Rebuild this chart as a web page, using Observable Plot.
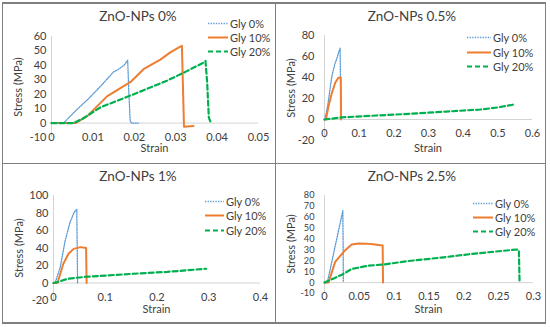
<!DOCTYPE html>
<html>
<head>
<meta charset="utf-8">
<script src="https://cdn.jsdelivr.net/npm/d3@7"></script>
<script src="https://cdn.jsdelivr.net/npm/@observablehq/plot@0.6"></script>
<style>
  html, body { margin: 0; padding: 0; background: #fff; }
  #root { position: relative; width: 550px; height: 327px; font-family: Lato, "Open Sans", sans-serif; color: #404040; overflow: hidden; }
  .ln { position: absolute; background: #7f7f7f; }
  .abs { position: absolute; white-space: nowrap; line-height: 1; }
  .title { font-size: 13.5px; transform: translate(-50%, -50%); }
  .xlab { font-size: 11px; transform: translate(-50%, -50%); }
  .ylab { font-size: 11px; writing-mode: vertical-rl; transform: translate(-50%, -50%) rotate(180deg); }
  .leg { font-size: 11px; transform: translateY(-50%); display: flex; align-items: center; }
  .leg svg { display: block; margin-right: 2px; }
  .panel { position: absolute; }
</style>
</head>
<body>
<div id="root"></div>
<script>
// ---------- data ----------
const titles = ["ZnO-NPs 0%", "ZnO-NPs 0.5%", "ZnO-NPs 1%", "ZnO-NPs 2.5%"];
const seriesNames = ["Gly 0%", "Gly 10%", "Gly 20%"];
const xAxisTitle = "Strain";
const yAxisTitle = "Stress (MPa)";

// Panel 1: ZnO-NPs 0%
const p1Gly0 = [[0,0],[0.0029,0],[0.006,9],[0.009,17],[0.012,26],[0.015,35.5],[0.016,37],[0.0175,40],[0.0184,43.5],[0.0187,20],[0.019,2],[0.0193,0],[0.021,0]];
const p1Gly10 = [[0,0],[0.0058,0],[0.0087,5],[0.0134,18.5],[0.0191,28.5],[0.0223,37.5],[0.0263,44],[0.0287,49],[0.0311,53],[0.0315,53.5],[0.0318,20],[0.032,-2.5],[0.0343,-2]];
const p1Gly20 = [[0,0],[0.0053,0],[0.0075,3],[0.0119,11],[0.0199,20],[0.0279,29.4],[0.0327,36],[0.0368,42],[0.0372,43],[0.0376,28],[0.038,4],[0.0385,0]];
const p1XTicks = [0, 0.01, 0.02, 0.03, 0.04, 0.05];
const p1YTicks = [-10, 0, 10, 20, 30, 40, 50, 60];

// Panel 2: ZnO-NPs 0.5%
const p2Gly0 = [[0,0],[0.005,6],[0.01,15],[0.021,41],[0.03,53],[0.0355,58],[0.04,63],[0.045,68],[0.0465,30],[0.048,0]];
const p2Gly10 = [[0,0],[0.004,0],[0.0115,12.5],[0.021,25],[0.031,35],[0.04,39.8],[0.047,40],[0.0475,0]];
const p2Gly20 = [[0,0],[0.05,2],[0.15,3.8],[0.25,5.5],[0.35,7.5],[0.45,9.5],[0.5,11.5],[0.55,14.5]];
const p2XTicks = [0, 0.1, 0.2, 0.3, 0.4, 0.5, 0.6];
const p2YTicks = [-20, 0, 20, 40, 60, 80];

// Panel 3: ZnO-NPs 1%
const p3Gly0 = [[0,0],[0.003,0],[0.013,18],[0.0226,48.6],[0.032,69.6],[0.04,81],[0.045,84],[0.0465,0]];
const p3Gly10 = [[0,0],[0.0077,0],[0.019,22],[0.029,33.5],[0.039,39],[0.052,41],[0.063,40],[0.064,0]];
const p3Gly20 = [[0,0],[0.01,1.5],[0.02,3.5],[0.03,5],[0.045,6],[0.065,7.2],[0.1,8.5],[0.155,10.6],[0.22,12.7],[0.295,16.3]];
const p3XTicks = [0, 0.1, 0.2, 0.3, 0.4];
const p3YTicks = [-20, 0, 20, 40, 60, 80, 100];

// Panel 4: ZnO-NPs 2.5%
const p4Gly0 = [[0,0],[0.004,0],[0.0263,66],[0.0268,30],[0.027,0]];
const p4Gly10 = [[0,0],[0.0057,0],[0.0153,19],[0.0297,29.8],[0.039,35],[0.049,36],[0.06,35.8],[0.07,35.2],[0.08,34.4],[0.0835,34],[0.084,0]];
const p4Gly20 = [[0,0],[0.015,4.3],[0.027,8],[0.039,12.5],[0.063,15.5],[0.087,16.8],[0.12,19.8],[0.168,23],[0.216,26.7],[0.276,30.4],[0.279,29.5],[0.28,0]];
const p4XTicks = [0, 0.05, 0.1, 0.15, 0.2, 0.25, 0.3];
const p4YTicks = [-10, 0, 10, 20, 30, 40, 50, 60, 70, 80];

// ---------- styling / layout ----------
const colors = ["#5B9BD5", "#ED7D31", "#00B050"];
const dashes = ["1.3,1.3", null, "5,3"];
const widths = [1.3, 2, 2.2];

const panels = [
  {data: [p1Gly0, p1Gly10, p1Gly20], xt: p1XTicks, yt: p1YTicks, left: 2, top: 2, w: 273, h: 161, m: [34, 17, 26, 49], pad: 5, yfs: 11,
   title: [138, 17], legX: 208, legY: [23, 37, 51], legW: 20, xlabY: 147, ylabX: 17},
  {data: [p2Gly0, p2Gly10, p2Gly20], xt: p2XTicks, yt: p2YTicks, left: 275, top: 2, w: 270, h: 161, m: [33, 13, 23, 49], pad: 10, yfs: 11,
   title: [412, 17], legX: 467, legY: [37, 52, 66], legW: 24, xlabY: 147, ylabX: 290},
  {data: [p3Gly0, p3Gly10, p3Gly20], xt: p3XTicks, yt: p3YTicks, left: 2, top: 163, w: 273, h: 160, m: [32, 15, 23, 51], pad: 5, yfs: 11,
   title: [138, 177], legX: 205, legY: [201, 215, 230], legW: 19, xlabY: 308, ylabX: 18},
  {data: [p4Gly0, p4Gly10, p4Gly20], xt: p4XTicks, yt: p4YTicks, left: 275, top: 163, w: 270, h: 160, m: [32, 12, 30, 49], pad: 10, yfs: 9.2,
   title: [412, 177], legX: 473, legY: [203, 217, 231], legW: 20, xlabY: 308, ylabX: 290}
];

const root = document.getElementById("root");

function addDiv(cls, text, x, y) {
  const d = document.createElement("div");
  d.className = "abs " + cls;
  d.style.left = x + "px";
  d.style.top = y + "px";
  if (text != null) d.textContent = text;
  root.appendChild(d);
  return d;
}

panels.forEach((p, i) => {
  const [mt, mr, mb, ml] = p.m;
  const chart = Plot.plot({
    width: p.w, height: p.h,
    marginTop: mt, marginRight: mr, marginBottom: mb, marginLeft: ml,
    x: {domain: [0, p.xt[p.xt.length - 1]], axis: null},
    y: {domain: [p.yt[0], p.yt[p.yt.length - 1]]},
    style: {fontFamily: "Lato, 'Open Sans', sans-serif", fontSize: "11px", color: "#404040", background: "transparent", overflow: "visible"},
    marks: [
      Plot.ruleX([0], {stroke: "#d4d4d4", strokeWidth: 1}),
      Plot.ruleY([0], {stroke: "#d4d4d4", strokeWidth: 1}),
      Plot.axisY({ticks: p.yt, tickSize: 0, tickPadding: p.pad, label: null, fontSize: p.yfs, tickFormat: d => String(d)}),
      Plot.text(p.xt, {x: d => d, y: () => 0, text: d => String(d), dy: 14, fill: "#404040"}),
      ...p.data.map((s, k) => Plot.line(s, {x: d => d[0], y: d => d[1], stroke: colors[k], strokeWidth: widths[k], strokeDasharray: dashes[k], strokeLinejoin: "round"}))
    ]
  });
  const holder = document.createElement("div");
  holder.className = "panel";
  holder.style.left = p.left + "px";
  holder.style.top = p.top + "px";
  holder.appendChild(chart);
  root.appendChild(holder);

  addDiv("title", titles[i], p.title[0], p.title[1]);
  const plotCx = p.left + ml + (p.w - ml - mr) / 2;
  const plotCy = p.top + mt + (p.h - mt - mb) / 2;
  addDiv("xlab", xAxisTitle, plotCx, p.xlabY);
  addDiv("ylab", yAxisTitle, p.ylabX, plotCy);

  seriesNames.forEach((name, k) => {
    const d = addDiv("leg", null, p.legX, p.legY[k]);
    const ns = "http://www.w3.org/2000/svg";
    const svg = document.createElementNS(ns, "svg");
    svg.setAttribute("width", p.legW);
    svg.setAttribute("height", 6);
    const l = document.createElementNS(ns, "line");
    l.setAttribute("x1", 0); l.setAttribute("x2", p.legW);
    l.setAttribute("y1", 3); l.setAttribute("y2", 3);
    l.setAttribute("stroke", colors[k]);
    l.setAttribute("stroke-width", widths[k]);
    if (dashes[k]) l.setAttribute("stroke-dasharray", dashes[k]);
    svg.appendChild(l);
    d.appendChild(svg);
    const t = document.createElement("span");
    t.textContent = name;
    d.appendChild(t);
  });
});

// frame lines (outer box and dividers)
[[2, 2, 544, 1.5], [2, 322, 544, 1.5], [2, 162.5, 544, 1.5]].forEach(([x, y, w, h]) => {
  const d = document.createElement("div"); d.className = "ln";
  Object.assign(d.style, {left: x + "px", top: y + "px", width: w + "px", height: h + "px"});
  root.appendChild(d);
});
[[1.5, 2, 1.2, 321.5], [274.5, 2, 1.5, 321.5], [544.5, 2, 1.5, 321.5]].forEach(([x, y, w, h]) => {
  const d = document.createElement("div"); d.className = "ln";
  Object.assign(d.style, {left: x + "px", top: y + "px", width: w + "px", height: h + "px"});
  root.appendChild(d);
});
</script>
</body>
</html>
